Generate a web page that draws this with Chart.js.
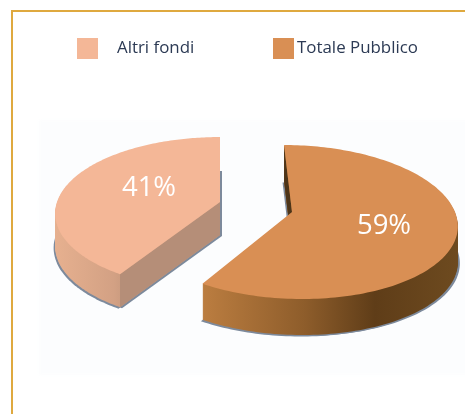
<!DOCTYPE html>
<html><head><meta charset="utf-8">
<script src="https://cdn.jsdelivr.net/npm/chart.js@4/dist/chart.umd.min.js"></script>
<style>
html,body{margin:0;padding:0;background:#fff;overflow:hidden}
#frame{position:absolute;left:11px;top:10px;width:454px;height:404px;border-left:2px solid #dfa93f;border-top:2px solid #dfa93f;box-sizing:border-box}
canvas{position:absolute;left:0;top:0}
</style></head><body>
<div id="frame"></div>
<canvas id="c" width="465" height="414"></canvas>
<script>
const categories = ['Altri fondi', 'Totale Pubblico'];
const shareValues = [41, 59];
const tickLabels = ['41%', '59%'];
const sliceColors = ['#f4b797', '#d98f54'];

// Drawing view of each slice: apex, radii, perspective, extrusion
const sliceViews = [
  {ax:220, ay:202, rx:163, ry:74.7, k:0.15, s:0, depth:33,
   stops:[[0,'#e6b08f'],[0.35,'#d3a184'],[0.4,'#cc9c80'],[1,'#c99c80']], x0:56, x1:220,
   cut:'#b58e78', label:[149,188]},
  {ax:292, ay:212, rx:163, ry:75.7, k:0.13, s:9, depth:36,
   stops:[[0,'#bb7d40'],[0.4,'#8e5d2b'],[0.68,'#5f3d18'],[1,'#6d4a1f']], x0:203, x1:456,
   cut:'#4d3519', label:[384,226]}
];

function project(v, a){
  const u = Math.cos(a), w = Math.sin(a), d = 1 - v.k * w;
  return [v.ax + (v.rx * u + v.s * w) / d, v.ay + v.ry * w / d];
}
function facePoints(v, arc){
  const pts = [];
  const n = 160;
  for (let i = 0; i <= n; i++) pts.push(project(v, arc.startAngle + (arc.endAngle - arc.startAngle) * i / n));
  return pts;
}
function fillPoly(ctx, pts, dx, dy, fill){
  ctx.beginPath();
  pts.forEach((p, i) => i ? ctx.lineTo(p[0] + dx, p[1] + dy) : ctx.moveTo(p[0] + dx, p[1] + dy));
  ctx.closePath();
  ctx.fillStyle = fill;
  ctx.fill();
}

const extrudedPie = {
  id: 'extrudedPie',
  beforeDraw(chart){
    const ctx = chart.ctx;
    ctx.save();
    ctx.filter = 'blur(1.5px)';
    ctx.fillStyle = '#fcfdfe';
    ctx.fillRect(39, 120, 440, 255);
    ctx.restore();
  },
  beforeDatasetsDraw(chart){
    const ctx = chart.ctx;
    const arcs = chart.getDatasetMeta(0).data;
    arcs.forEach((arc, i) => {
      const v = sliceViews[i];
      const face = facePoints(v, arc);
      const poly = face.concat([[v.ax, v.ay]]);
      // soft shadow under the extrusion
      ctx.save();
      ctx.filter = 'blur(0.7px)';
      fillPoly(ctx, poly, -1.5, v.depth + 1.5, '#7d8a9c');
      fillPoly(ctx, poly, 2, v.depth + 1, '#7d8a9c');
      ctx.restore();
      // side wall
      const g = ctx.createLinearGradient(v.x0, 0, v.x1, 0);
      v.stops.forEach(s => g.addColorStop(s[0], s[1]));
      for (let d = v.depth; d >= 1; d--) fillPoly(ctx, poly, 0, d, g);
      // cut wall
      const edge = face[0];
      fillPoly(ctx, [edge, [v.ax, v.ay], [v.ax, v.ay + v.depth], [edge[0], edge[1] + v.depth]], 0, 0, v.cut);
      // top face
      fillPoly(ctx, poly, 0, 0, arc.options.backgroundColor);
    });
    return false;
  },
  afterDraw(chart){
    const ctx = chart.ctx;
    ctx.save();
    // percentages
    ctx.font = '27.5px "Open Sans"';
    ctx.fillStyle = '#ffffff';
    ctx.textAlign = 'center';
    ctx.textBaseline = 'middle';
    tickLabels.forEach((t, i) => ctx.fillText(t, sliceViews[i].label[0], sliceViews[i].label[1]));
    // legend
    const boxX = [77, 273], textX = [117, 297];
    ctx.font = '16.9px "Open Sans"';
    ctx.textAlign = 'left';
    categories.forEach((c, i) => {
      ctx.fillStyle = sliceColors[i];
      ctx.fillRect(boxX[i], 38, 21, 21);
      ctx.fillStyle = '#2c3a54';
      ctx.fillText(c, textX[i], 48);
    });
    ctx.restore();
  }
};

new Chart(document.getElementById('c'), {
  type: 'pie',
  data: { labels: categories, datasets: [{ data: shareValues, backgroundColor: sliceColors, borderWidth: 0 }] },
  options: {
    responsive: false,
    animation: false,
    rotation: shareValues[1] / 100 * 360,
    events: [],
    plugins: { legend: { display: false }, tooltip: { enabled: false } }
  },
  plugins: [extrudedPie]
});
</script>
</body></html>
